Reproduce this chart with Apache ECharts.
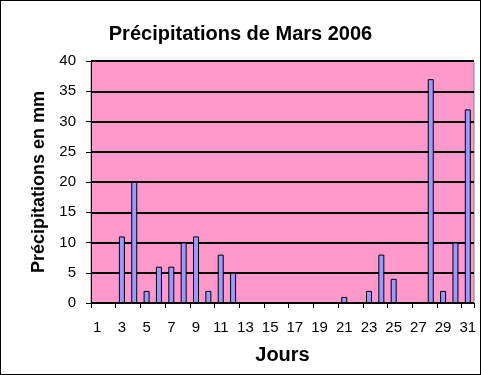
<!DOCTYPE html>
<html><head><meta charset="utf-8">
<script src="https://cdn.jsdelivr.net/npm/echarts@6/dist/echarts.min.js"></script>
<style>html,body{margin:0;padding:0;background:#fff}#c{width:481px;height:375px;box-sizing:border-box;border:1px solid #000}</style>
</head><body><div id="c"></div>
<script>
const days = ['1','2','3','4','5','6','7','8','9','10','11','12','13','14','15','16','17','18','19','20','21','22','23','24','25','26','27','28','29','30','31'];
const rain = [0,0,11,20,2,6,6,10,11,2,8,5,0,0,0,0,0,0,0,0,1,0,2,8,4,0,0,37,2,10,32];
const yTicks = [0,5,10,15,20,25,30,35,40];
const chart = echarts.init(document.getElementById('c'), null, {renderer:'canvas'});
const ff = '"Liberation Sans", Arial, sans-serif';
chart.setOption({
  animation:false,
  title:{text:'Précipitations de Mars 2006',left:'center',top:18,textStyle:{fontFamily:ff,fontSize:20,fontWeight:'bold',color:'#000'}},
  grid:{left:90,right:6,top:60,bottom:71,show:true,backgroundColor:'#FF99CC',borderColor:'#808080',borderWidth:1},
  xAxis:{type:'category',data:days,name:'Jours',nameLocation:'middle',nameGap:42,
    nameTextStyle:{fontFamily:ff,fontSize:20,fontWeight:'bold',color:'#000'},
    axisLine:{lineStyle:{color:'#000',width:1}},
    axisTick:{show:true,length:5,lineStyle:{color:'#000'}},
    axisLabel:{interval:1,fontFamily:ff,fontSize:15,color:'#000',margin:17}},
  yAxis:{type:'value',min:0,max:40,interval:5,name:'Précipitations en mm',nameLocation:'middle',nameGap:39,
    nameTextStyle:{fontFamily:ff,fontSize:18,fontWeight:'bold',color:'#000'},
    axisLine:{show:true,lineStyle:{color:'#000'}},
    axisTick:{show:true,length:5,lineStyle:{color:'#000'}},
    axisLabel:{fontFamily:ff,fontSize:15,color:'#000',margin:15,formatter:v=>yTicks.includes(v)?String(v):''},
    splitLine:{lineStyle:{color:'#000',width:2}}},
  series:[{type:'bar',data:rain,barWidth:6,itemStyle:{color:'#9999FF',borderColor:'#000',borderWidth:1}}]
});
</script></body></html>
